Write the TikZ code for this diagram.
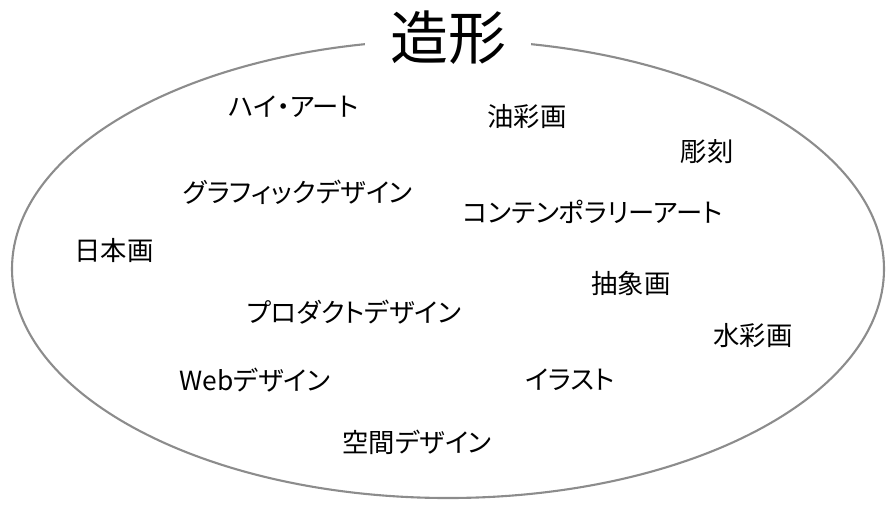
\documentclass[tikz,border=0pt]{standalone}
\usepackage{fontspec}
\setmainfont[RawFeature={+palt}]{Noto Sans CJK JP}
\usepackage{tikz}

\begin{document}
\begin{tikzpicture}[
    x=0.02cm, y=-0.02cm,
    field/.style={draw=gray!90, line width=1.2pt},
    title/.style={
      fill=white, inner xsep=14pt, inner ysep=2pt, font=\fontsize{33}{36}\selectfont
    },
    item/.style={inner sep=1pt, font=\fontsize{15}{18}\selectfont},
  ]
    \useasboundingbox (0,0) rectangle (896,512);
    \draw[field] (448,269) ellipse [x radius=436, y radius=229];
    \node[title] (zokei) at (448,38) {造形};
    % genres
    \node[item] (high) at (294,107) {ハイ・アート};
    \node[item] (oil) at (527,117) {油彩画};
    \node[item] (sculpt) at (707,152) {彫刻};
    \node[item] (graphic) at (298,192) {グラフィックデザイン};
    \node[item] (contemp) at (593,212) {コンテンポラリーアート};
    \node[item] (nihonga) at (114,250) {日本画};
    \node[item] (abstract) at (631,283) {抽象画};
    \node[item] (product) at (354,312) {プロダクトデザイン};
    \node[item] (water) at (753,336) {水彩画};
    \node[item] (web) at (255,380) {Webデザイン};
    \node[item] (illust) at (570,380) {イラスト};
    \node[item] (space) at (417,442) {空間デザイン};
  \end{tikzpicture}
\end{document}
